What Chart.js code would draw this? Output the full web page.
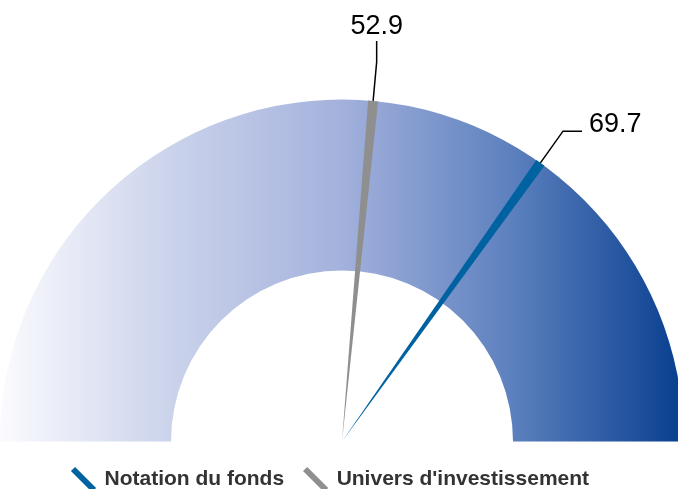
<!DOCTYPE html>
<html>
<head>
<meta charset="utf-8">
<script src="https://cdn.jsdelivr.net/npm/chart.js@4"></script>
<style>
  html, body { margin: 0; padding: 0; overflow: hidden; background: #fff; }
  #gauge { display: block; }
</style>
</head>
<body>
<canvas id="gauge" width="684" height="500"></canvas>
<script>
// ===== GAUGE DATA =====
const gaugeMin = 0;
const gaugeMax = 100;
const seriesLabels = ['Notation du fonds', "Univers d'investissement"];
const seriesValues = [69.7, 52.9];
const seriesColors = ['#0062a1', '#8f8f8f'];

const FONT = "'Liberation Sans', Arial, sans-serif";

// needles + value labels, drawn on top of the half doughnut
const needlePlugin = {
  id: 'needles',
  afterDatasetsDraw(chart) {
    const arc = chart.getDatasetMeta(0).data[0];
    if (!arc) return;
    const { x, y, outerRadius, startAngle, endAngle } =
      arc.getProps(['x', 'y', 'outerRadius', 'startAngle', 'endAngle'], true);
    const c = chart.ctx;
    const half = 5 / outerRadius;

    seriesValues.forEach((v, i) => {
      const a = startAngle + (v - gaugeMin) / (gaugeMax - gaugeMin) * (endAngle - startAngle);
      c.save();
      c.fillStyle = seriesColors[i];
      c.beginPath();
      c.moveTo(x, y);
      c.arc(x, y, outerRadius, a - half, a + half);
      c.closePath();
      c.fill();
      c.restore();
    });

    seriesValues.forEach((v, i) => {
      const a = startAngle + (v - gaugeMin) / (gaugeMax - gaugeMin) * (endAngle - startAngle);
      const x0 = x + Math.cos(a) * outerRadius, y0 = y + Math.sin(a) * outerRadius;
      const x1 = x + Math.cos(a) * (outerRadius + 39), y1 = y + Math.sin(a) * (outerRadius + 39);
      const vertical = Math.abs(Math.cos(a)) < 0.3;
      const x2 = vertical ? x1 : x1 + (Math.cos(a) > 0 ? 19 : -19);
      const y2 = vertical ? y1 - 21 : y1;
      c.save();
      c.strokeStyle = '#000';
      c.lineWidth = 1.5;
      c.beginPath();
      c.moveTo(x0, y0);
      c.lineTo(x1, y1);
      c.lineTo(x2, y2);
      c.stroke();
      c.fillStyle = '#000';
      c.font = '27px ' + FONT;
      c.textBaseline = 'alphabetic';
      if (vertical) {
        c.textAlign = 'center';
        c.fillText(v.toFixed(1), x2, y2 - 7);
      } else {
        c.textAlign = Math.cos(a) > 0 ? 'left' : 'right';
        c.fillText(v.toFixed(1), x2 + (Math.cos(a) > 0 ? 7 : -7), y2 + 1);
      }
      c.restore();
    });
  }
};

new Chart(document.getElementById('gauge'), {
  type: 'doughnut',
  data: {
    labels: [''],
    datasets: [{
      data: [gaugeMax - gaugeMin],
      backgroundColor: (ctx) => {
        const g = ctx.chart.ctx.createLinearGradient(0, 0, ctx.chart.width, 0);
        g.addColorStop(0, '#fbfbfe');
        g.addColorStop(0.25, '#cbd3eb');
        g.addColorStop(0.5, '#a3b1dc');
        g.addColorStop(0.75, '#5c80be');
        g.addColorStop(1, '#073e8f');
        return g;
      },
      borderWidth: 0,
      clip: false
    }]
  },
  options: {
    responsive: false,
    animation: false,
    events: [],
    rotation: -90,
    circumference: 180,
    cutout: '50%',
    radius: 342,
    layout: { padding: { top: 93, left: 52, right: 52, bottom: 0 } },
    plugins: {
      tooltip: { enabled: false },
      legend: {
        position: 'bottom',
        align: 'start',
        onClick: null,
        labels: {
          usePointStyle: true,
          padding: 21,
          color: '#333',
          font: { family: FONT, size: 21, weight: 'bold' },
          generateLabels: () => seriesLabels.map((t, i) => ({
            text: t,
            fillStyle: seriesColors[i],
            strokeStyle: seriesColors[i],
            lineWidth: 6,
            pointStyle: 'line',
            rotation: 45,
            hidden: false,
            fontColor: '#333',
            datasetIndex: 0
          }))
        }
      }
    }
  },
  plugins: [needlePlugin]
});
</script>
</body>
</html>
